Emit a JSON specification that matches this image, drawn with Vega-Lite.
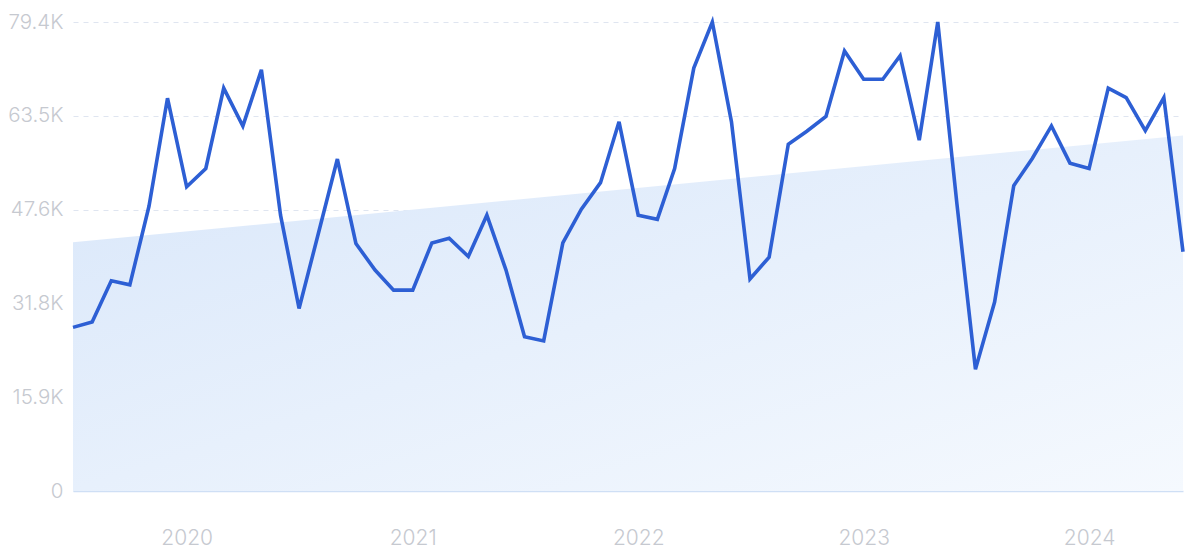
{
  "$schema": "https://vega.github.io/schema/vega-lite/v6.json",
  "autosize": "none",
  "width": 1110,
  "height": 469,
  "padding": {"left": 73, "top": 22, "right": 17, "bottom": 63},
  "background": "#ffffff",
  "config": {
    "view": {"stroke": null},
    "font": "Inter",
    "axis": {"labelFont": "Inter", "labelFontWeight": 300}
  },
  "datasets": {
    "trend": [
      {"date": "2019-07-01", "trend": 42100},
      {"date": "2024-06-01", "trend": 60200}
    ],
    "series": [
      {"date": "2019-07-01", "value": 27700},
      {"date": "2019-08-01", "value": 28600},
      {"date": "2019-09-01", "value": 35600},
      {"date": "2019-10-01", "value": 34900},
      {"date": "2019-11-01", "value": 48200},
      {"date": "2019-12-01", "value": 66500},
      {"date": "2020-01-01", "value": 51500},
      {"date": "2020-02-01", "value": 54600},
      {"date": "2020-03-01", "value": 68200},
      {"date": "2020-04-01", "value": 61800},
      {"date": "2020-05-01", "value": 71300},
      {"date": "2020-06-01", "value": 46700},
      {"date": "2020-07-01", "value": 30900},
      {"date": "2020-08-01", "value": 43500},
      {"date": "2020-09-01", "value": 56200},
      {"date": "2020-10-01", "value": 41900},
      {"date": "2020-11-01", "value": 37400},
      {"date": "2020-12-01", "value": 34000},
      {"date": "2021-01-01", "value": 34000},
      {"date": "2021-02-01", "value": 42000},
      {"date": "2021-03-01", "value": 42800},
      {"date": "2021-04-01", "value": 39700},
      {"date": "2021-05-01", "value": 46700},
      {"date": "2021-06-01", "value": 37400},
      {"date": "2021-07-01", "value": 26100},
      {"date": "2021-08-01", "value": 25400},
      {"date": "2021-09-01", "value": 42000},
      {"date": "2021-10-01", "value": 47700},
      {"date": "2021-11-01", "value": 52200},
      {"date": "2021-12-01", "value": 62500},
      {"date": "2022-01-01", "value": 46700},
      {"date": "2022-02-01", "value": 46000},
      {"date": "2022-03-01", "value": 54600},
      {"date": "2022-04-01", "value": 71600},
      {"date": "2022-05-01", "value": 79400},
      {"date": "2022-06-01", "value": 62500},
      {"date": "2022-07-01", "value": 35900},
      {"date": "2022-08-01", "value": 39600},
      {"date": "2022-09-01", "value": 58700},
      {"date": "2022-10-01", "value": 60900},
      {"date": "2022-11-01", "value": 63400},
      {"date": "2022-12-01", "value": 74500},
      {"date": "2023-01-01", "value": 69700},
      {"date": "2023-02-01", "value": 69700},
      {"date": "2023-03-01", "value": 73700},
      {"date": "2023-04-01", "value": 59400},
      {"date": "2023-05-01", "value": 79400},
      {"date": "2023-06-01", "value": 48600},
      {"date": "2023-07-01", "value": 20600},
      {"date": "2023-08-01", "value": 32000},
      {"date": "2023-09-01", "value": 51700},
      {"date": "2023-10-01", "value": 56300},
      {"date": "2023-11-01", "value": 61800},
      {"date": "2023-12-01", "value": 55500},
      {"date": "2024-01-01", "value": 54600},
      {"date": "2024-02-01", "value": 68200},
      {"date": "2024-03-01", "value": 66600},
      {"date": "2024-04-01", "value": 61000},
      {"date": "2024-05-01", "value": 66600},
      {"date": "2024-06-01", "value": 40500}
    ]
  },
  "layer": [
    {
      "data": {"name": "trend"},
      "mark": {
        "type": "area",
        "color": {
          "gradient": "linear",
          "x1": 0, "y1": 0, "x2": 1, "y2": 1,
          "stops": [
            {"offset": 0, "color": "#d9e7fa"},
            {"offset": 1, "color": "#f5f9fe"}
          ]
        }
      },
      "encoding": {
        "x": {
          "field": "date", "type": "temporal",
          "scale": {"type": "utc", "domain": [{"year": 2019, "month": 7, "date": 1, "utc": true}, {"year": 2024, "month": 6, "date": 1, "utc": true}], "nice": false},
          "axis": {
            "title": null,
            "format": "%Y",
            "formatType": "utc",
            "values": [{"year": 2020, "month": 1, "date": 1, "utc": true}, {"year": 2021, "month": 1, "date": 1, "utc": true}, {"year": 2022, "month": 1, "date": 1, "utc": true}, {"year": 2023, "month": 1, "date": 1, "utc": true}, {"year": 2024, "month": 1, "date": 1, "utc": true}],
            "grid": false,
            "ticks": false,
            "domain": true,
            "domainColor": "#cfdff5",
            "domainWidth": 1.5,
            "labelColor": "#c6c9d0",
            "labelFontSize": 21,
            "labelPadding": 36,
            "labelFlush": false
          }
        },
        "y": {
          "field": "trend", "type": "quantitative",
          "scale": {"domain": [0, 79400], "nice": false, "zero": true},
          "axis": {
            "title": null,
            "values": [0, 15880, 31760, 47640, 63520, 79400],
            "labelExpr": "datum.value == 0 ? '0' : format(datum.value / 1000, '.1f') + 'K'",
            "grid": true,
            "gridDash": [5, 5],
            "gridColor": "#dfe5f0",
            "gridWidth": 1,
            "ticks": false,
            "domain": false,
            "labelColor": "#c6c9d0",
            "labelFontSize": 20.5,
            "labelPadding": 10
          }
        }
      }
    },
    {
      "data": {"name": "series"},
      "mark": {"type": "line", "color": "#2d5fd4", "strokeWidth": 3.6, "strokeJoin": "miter"},
      "encoding": {
        "x": {"field": "date", "type": "temporal"},
        "y": {"field": "value", "type": "quantitative"}
      }
    }
  ]
}
